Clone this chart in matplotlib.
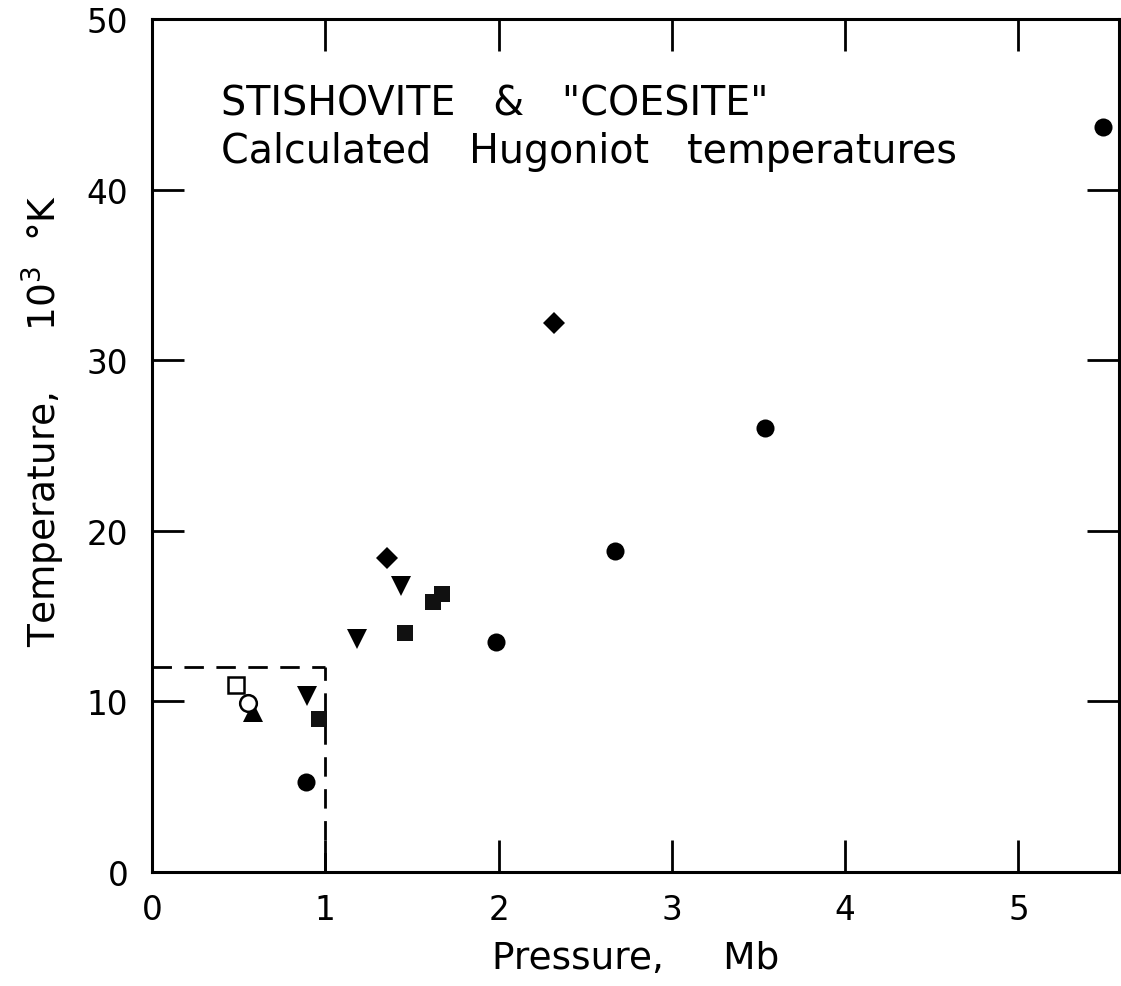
import matplotlib
matplotlib.use("Agg")
import matplotlib.pyplot as plt

plt.rcParams['font.family'] = ['DejaVu Sans']

# Hugoniot points, pressure (Mb) vs temperature (10^3 K), grouped by symbol
circ_p = [0.89, 1.985, 2.67, 3.54, 5.49]
circ_t = [5.3, 13.5, 18.8, 26.0, 43.7]

diam_p = [1.356, 2.32]
diam_t = [18.4, 32.2]

tri_dn_p = [0.894, 1.183, 1.437]
tri_dn_t = [10.3, 13.66, 16.76]

sq_p = [0.964, 1.46, 1.62, 1.673]
sq_t = [8.97, 14.0, 15.8, 16.3]

open_sq_p = [0.485]
open_sq_t = [10.96]

open_circ_p = [0.554]
open_circ_t = [9.9]

tri_up_p = [0.583]
tri_up_t = [9.38]

# dashed box corner
box_p = 1.0
box_t = 12.0

xticks = [0, 1, 2, 3, 4, 5]
yticks = [0, 10, 20, 30, 40, 50]

fig = plt.figure(figsize=(11.21, 9.87), dpi=100)
ax = fig.add_axes([0.1356, 0.1155, 0.8626, 0.8642])

ax.plot([0, box_p], [box_t, box_t], color='black', lw=2, dashes=(7, 4.5))
ax.plot([box_p, box_p], [0, box_t], color='black', lw=2, dashes=(7, 4.5))

ax.plot(circ_p, circ_t, 'o', color='black', ms=13, mew=0)
ax.plot(diam_p, diam_t, 'D', color='black', ms=11, mew=0)
ax.plot(tri_dn_p, tri_dn_t, 'v', color='black', ms=15, mew=0)
ax.plot(sq_p, sq_t, 's', color='#111111', ms=12, mew=0)
ax.plot(tri_up_p, tri_up_t, '^', color='black', ms=15, mew=0)
ax.plot(open_sq_p, open_sq_t, 's', mfc='white', mec='black', ms=11, mew=1.8)
ax.plot(open_circ_p, open_circ_t, 'o', mfc='white', mec='black', ms=12, mew=1.8)

ax.set_xlim(0, 5.58)
ax.set_ylim(0, 50)
ax.set_xticks(xticks)
ax.set_yticks(yticks)
ax.set_xticklabels([str(v) for v in xticks])
ax.set_yticklabels([str(v) for v in yticks])

for s in ax.spines.values():
    s.set_linewidth(2.2)

ax.tick_params(direction='in', length=23, width=2, labelsize=23.5,
               top=True, right=True)
ax.tick_params(axis='x', pad=15)
ax.tick_params(axis='y', pad=17)

ax.set_xlabel('Pressure,     Mb', fontsize=27, labelpad=10)
ax.set_ylabel(r'Temperature,     $\mathregular{10^3}$  °K', fontsize=27)
ax.yaxis.set_label_coords(-0.088, 0.53)

ax.text(0.40, 44.4, 'STISHOVITE   &   "COESITE"', fontsize=28.5, va='baseline')
ax.text(0.40, 41.6, 'Calculated   Hugoniot   temperatures', fontsize=28.5,
        va='baseline')

fig.savefig('out.png', dpi=100)
